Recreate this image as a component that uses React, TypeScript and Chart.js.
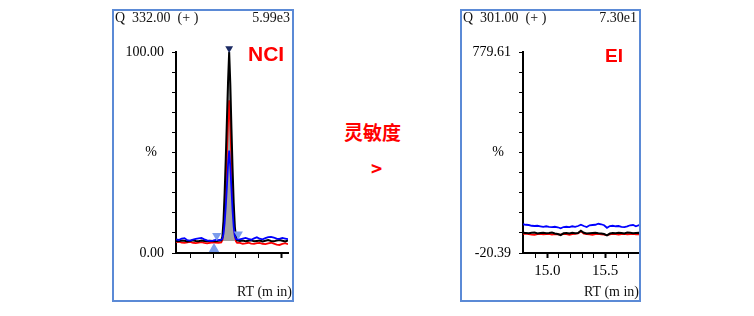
import React, { useEffect, useRef } from "react";
import { Chart, registerables } from "chart.js";

Chart.register(...registerables);

// ---------- NCI panel data (Q 332.00) ----------
const NCI_TIME = [
  14.07, 14.095, 14.12, 14.145, 14.17, 14.195, 14.22, 14.245, 14.27, 14.295, 14.32, 14.345, 14.37, 14.395, 14.42, 14.445, 14.47,
  14.48, 14.49, 14.5, 14.51, 14.52, 14.53, 14.54, 14.55, 14.56, 14.57, 14.58, 14.59, 14.6, 14.61,
  14.635, 14.66, 14.685, 14.71, 14.735, 14.76, 14.785, 14.81, 14.835, 14.86, 14.885, 14.91, 14.935, 14.96, 14.985, 15.01, 15.035, 15.06,
];
const NCI_BLACK = [
  6.0, 5.8, 6.2, 6.1, 5.7, 6.0, 6.3, 6.0, 5.9, 6.2, 6.0, 5.8, 6.1, 6.0, 5.9, 6.1, 6.3,
  8, 16, 30, 47, 66, 85, 100, 84, 62, 42, 25, 13, 8, 6.3,
  6.0, 6.2, 5.9, 6.1, 6.3, 5.8, 6.0, 6.2, 5.7, 6.1, 6.4, 6.0, 5.8, 6.2, 6.5, 6.1, 5.7, 6.2,
];
const NCI_RED = [
  5.4, 5.6, 5.2, 5.0, 5.3, 5.5, 5.1, 4.9, 5.2, 5.4, 5.0, 4.8, 5.1, 5.3, 5.2, 5.0, 5.3,
  6.5, 12, 22, 35, 50, 65, 76, 64, 47, 31, 18, 9, 5.8, 5.0,
  5.0, 4.6, 4.8, 5.1, 4.7, 4.5, 4.9, 5.0, 4.6, 4.4, 4.8, 5.1, 4.7, 4.2, 4.0, 4.5, 4.9, 4.4,
];
const NCI_BLUE = [
  6.8, 6.5, 7.2, 7.4, 6.4, 6.2, 6.6, 7.0, 7.3, 7.5, 6.8, 6.3, 6.0, 6.2, 6.5, 6.4, 6.6,
  7, 9.5, 15, 23, 33, 44, 51, 43, 32, 21, 13, 8.5, 7, 6.8,
  6.8, 7.2, 7.5, 7.0, 6.6, 7.3, 7.8, 7.1, 6.8, 7.4, 7.9, 8.0, 7.6, 7.2, 7.0, 7.5, 7.2, 6.9,
];
const NCI_PEAK_START = 16; // index of peak start in NCI_TIME
const NCI_PEAK_END = 30; // index of peak end
const NCI_BASELINE = 6;
const NCI_APEX_MARK = [{ x: 14.54, y: 101.8 }];
const NCI_DOWN_MARKS = [{ x: 14.43, y: 8.6 }, { x: 14.621, y: 9.4 }];
const NCI_UP_MARKS = [{ x: 14.406, y: 2.0 }];
const NCI_X_TICKS = [14.2, 14.4, 14.6, 14.8, 15.0];
const NCI_X_MAJOR = [15.0];
const NCI_Y_TICKS = [0, 10, 20, 30, 40, 50, 60, 70, 80, 90, 100];
const NCI_Y_LABELS = ["0.00", "", "", "", "", "%  ", "", "", "", "", "100.00"];

// ---------- EI panel data (Q 301.00) ----------
const EI_TIME = [
  14.79, 14.815, 14.84, 14.865, 14.89, 14.915, 14.94, 14.965, 14.99, 15.015,
  15.04, 15.065, 15.09, 15.115, 15.14, 15.165, 15.19, 15.215, 15.24, 15.265,
  15.29, 15.315, 15.34, 15.365, 15.39, 15.415, 15.44, 15.465, 15.49, 15.515,
  15.54, 15.565, 15.59, 15.615, 15.64, 15.665, 15.69, 15.715, 15.74, 15.765,
  15.79, 15.8,
];
const EI_BLUE = [
  94, 92, 91, 88, 87, 88, 86, 84, 86, 84,
  83, 84, 82, 78, 83, 84, 83, 86, 84, 87,
  92, 87, 83, 90, 91, 92, 96, 94, 90, 80,
  87, 88, 86, 87, 84, 83, 86, 90, 91, 86,
  90, 88,
];
const EI_BLACK = [
  60, 59, 58, 60, 61, 57, 59, 60, 58, 59,
  61, 57, 55, 51, 58, 59, 57, 60, 58, 59,
  68, 60, 57, 58, 59, 60, 58, 57, 55, 50,
  57, 59, 58, 60, 59, 57, 61, 60, 58, 59,
  60, 59,
];
const EI_RED = [
  56, 57, 55, 53, 52, 55, 56, 54, 55, 56,
  53, 55, 54, 53, 56, 55, 52, 55, 56, 58,
  66, 57, 55, 54, 52, 55, 56, 54, 53, 51,
  54, 56, 55, 53, 55, 56, 54, 55, 56, 54,
  55, 53,
];
const EI_X_TICKS = [14.9, 15.0, 15.1, 15.2, 15.3, 15.4, 15.5, 15.6, 15.7, 15.8];
const EI_X_MAJOR = [15.0, 15.5];
const EI_X_LABELS: [number, string][] = [[15.0, "15.0"], [15.5, "15.5"]];
const EI_Y_TICKS = [-20.39, 59.61, 139.61, 219.61, 299.61, 379.61, 459.61, 539.61, 619.61, 699.61, 779.61];
const EI_Y_LABELS = ["-20.39", "", "", "", "", "%  ", "", "", "", "", "779.61"];

const SERIF = "'Liberation Serif', 'DejaVu Serif', serif";
const BORDER = "#5b8ad6";

const pts = (xs: number[], ys: number[]) => xs.map((x, i) => ({ x, y: ys[i] }));

function lineDs(data: any[], color: string, order: number, width = 1.8) {
  return {
    data,
    borderColor: color,
    borderWidth: width,
    pointRadius: 0,
    fill: false,
    tension: 0,
    order,
  };
}

function markDs(data: any[], color: string, radius: number, rotation: number) {
  return {
    data,
    showLine: false,
    pointStyle: "triangle",
    pointRadius: radius,
    pointRotation: rotation,
    backgroundColor: color,
    borderColor: color,
    borderWidth: 0,
    clip: false,
    order: 0,
  };
}

type PanelProps = {
  left: number;
  top: number;
  width: number;
  height: number;
  yAxisWidth: number;
  padRight: number;
  xMin: number;
  xMax: number;
  xTicks: number[];
  xMajor: number[];
  xLabels: [number, string][];
  yMin: number;
  yMax: number;
  yTicks: number[];
  yLabels: string[];
  datasets: any[];
};

function ChromPanel(p: PanelProps) {
  const ref = useRef<HTMLCanvasElement>(null);
  useEffect(() => {
    const near = (a: number, b: number) => Math.abs(a - b) < 1e-6;
    const chart = new Chart(ref.current as HTMLCanvasElement, {
      type: "line",
      data: { datasets: p.datasets },
      options: {
        animation: false,
        responsive: false,
        maintainAspectRatio: false,
        events: [],
        layout: { padding: { left: 0, top: 43, right: p.padRight, bottom: 0 } },
        plugins: { legend: { display: false }, tooltip: { enabled: false } },
        scales: {
          x: {
            type: "linear",
            min: p.xMin,
            max: p.xMax,
            afterBuildTicks: (s: any) => {
              s.ticks = p.xTicks.map((v) => ({ value: v }));
            },
            afterFit: (s: any) => {
              s.height = 49;
            },
            ticks: {
              autoSkip: false,
              maxRotation: 0,
              padding: 0,
              color: "#000",
              font: { family: SERIF, size: 15, lineHeight: 1.8 },
              callback: (v: any) => {
                const f = p.xLabels.find(([t]) => near(t, Number(v)));
                return f ? f[1] : "";
              },
            },
            grid: {
              drawOnChartArea: false,
              drawTicks: true,
              tickLength: 5,
              color: "#000",
              tickWidth: (ctx: any) =>
                ctx.tick && p.xMajor.some((m) => near(m, ctx.tick.value)) ? 2 : 1,
            },
            border: { display: true, color: "#000", width: 2 },
          },
          y: {
            type: "linear",
            position: "left",
            min: p.yMin,
            max: p.yMax,
            afterBuildTicks: (s: any) => {
              s.ticks = p.yTicks.map((v) => ({ value: v }));
            },
            afterFit: (s: any) => {
              s.width = p.yAxisWidth;
            },
            ticks: {
              autoSkip: false,
              padding: 8,
              color: "#000",
              font: { family: SERIF, size: 14 },
              callback: (_v: any, i: number) => p.yLabels[i] ?? "",
            },
            grid: {
              drawOnChartArea: false,
              drawTicks: true,
              tickLength: 4,
              color: "#000",
              tickWidth: 1,
            },
            border: { display: true, color: "#000", width: 2 },
          },
        },
      } as any,
    });
    return () => chart.destroy();
  }, []);
  return (
    <>
      <canvas
        ref={ref}
        width={p.width}
        height={p.height}
        style={{ position: "absolute", left: p.left, top: p.top, width: p.width, height: p.height }}
      />
      <div
        style={{
          position: "absolute",
          left: p.left,
          top: p.top,
          width: p.width,
          height: p.height,
          boxSizing: "border-box",
          border: `2px solid ${BORDER}`,
          pointerEvents: "none",
        }}
      />
    </>
  );
}

const txt = (extra: React.CSSProperties): React.CSSProperties => ({
  position: "absolute",
  whiteSpace: "pre",
  fontFamily: SERIF,
  fontSize: 14,
  lineHeight: "14px",
  color: "#111",
  ...extra,
});

export default function App() {
  const nciDatasets = [
    markDs(NCI_APEX_MARK, "#1b2a63", 4.5, 180),
    markDs(NCI_DOWN_MARKS, "#7b9cec", 5.3, 180),
    markDs(NCI_UP_MARKS, "#7b9cec", 6, 0),
    lineDs(pts(NCI_TIME, NCI_BLUE), "#0000ff", 1),
    lineDs(pts(NCI_TIME, NCI_BLACK), "#000000", 2, 2),
    lineDs(pts(NCI_TIME, NCI_RED), "#ff0000", 3),
    {
      data: pts(
        NCI_TIME.slice(NCI_PEAK_START, NCI_PEAK_END + 1),
        NCI_BLACK.slice(NCI_PEAK_START, NCI_PEAK_END + 1)
      ),
      borderWidth: 0,
      pointRadius: 0,
      tension: 0,
      backgroundColor: "#a4a4a4",
      fill: { value: NCI_BASELINE },
      order: 4,
    },
  ];
  const eiDatasets = [
    lineDs(pts(EI_TIME, EI_BLUE), "#0000ff", 1),
    lineDs(pts(EI_TIME, EI_BLACK), "#000000", 2, 2),
    lineDs(pts(EI_TIME, EI_RED), "#ff0000", 3),
  ];

  return (
    <div
      style={{
        position: "absolute",
        left: 0,
        top: 0,
        width: 754,
        height: 316,
        background: "#fff",
        overflow: "hidden",
      }}
    >
      <ChromPanel
        left={112}
        top={9}
        width={182}
        height={293}
        yAxisWidth={64}
        padRight={2}
        xMin={14.07}
        xMax={15.06}
        xTicks={NCI_X_TICKS}
        xMajor={NCI_X_MAJOR}
        xLabels={[]}
        yMin={0}
        yMax={100}
        yTicks={NCI_Y_TICKS}
        yLabels={NCI_Y_LABELS}
        datasets={nciDatasets}
      />
      <ChromPanel
        left={460}
        top={9}
        width={181}
        height={293}
        yAxisWidth={63}
        padRight={1}
        xMin={14.79}
        xMax={15.8}
        xTicks={EI_X_TICKS}
        xMajor={EI_X_MAJOR}
        xLabels={EI_X_LABELS}
        yMin={-20.39}
        yMax={779.61}
        yTicks={EI_Y_TICKS}
        yLabels={EI_Y_LABELS}
        datasets={eiDatasets}
      />

      {/* Left panel texts */}
      <div style={txt({ left: 115, top: 11 })}>{"Q  332.00  (+ )"}</div>
      <div style={txt({ right: 754 - 290, top: 11 })}>5.99e3</div>
      <div style={txt({ right: 754 - 292, top: 285 })}>RT (m in)</div>
      <div
        style={{
          position: "absolute",
          left: 248,
          top: 43,
          fontFamily: "'Liberation Sans', Arial, sans-serif",
          fontWeight: "bold",
          fontSize: 21,
          lineHeight: "21px",
          color: "#ff0000",
        }}
      >
        NCI
      </div>

      {/* Right panel texts */}
      <div style={txt({ left: 463, top: 11 })}>{"Q  301.00  (+ )"}</div>
      <div style={txt({ right: 754 - 637, top: 11 })}>7.30e1</div>
      <div style={txt({ right: 754 - 639, top: 285 })}>RT (m in)</div>
      <div
        style={{
          position: "absolute",
          left: 605,
          top: 46,
          fontFamily: "'Liberation Sans', Arial, sans-serif",
          fontWeight: "bold",
          fontSize: 19,
          lineHeight: "19px",
          color: "#ff0000",
        }}
      >
        EI
      </div>

      {/* Middle annotation */}
      <div
        style={{
          position: "absolute",
          left: 344,
          top: 122,
          fontFamily: "'Noto Sans CJK SC', sans-serif",
          fontWeight: "bold",
          fontSize: 19,
          lineHeight: "19px",
          color: "#ff0000",
          whiteSpace: "pre",
        }}
      >
        灵敏度
      </div>
      <div
        style={{
          position: "absolute",
          left: 371,
          top: 158,
          fontFamily: "'Noto Sans CJK SC', sans-serif",
          fontWeight: "bold",
          fontSize: 19,
          lineHeight: "19px",
          color: "#ff0000",
        }}
      >
        {">"}
      </div>
    </div>
  );
}
